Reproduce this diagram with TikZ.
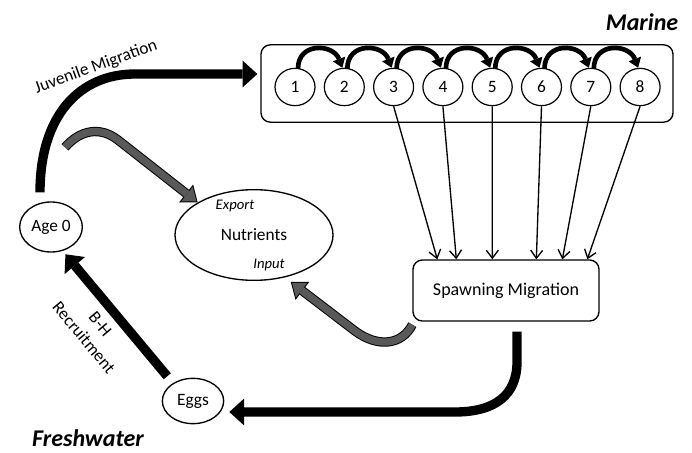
\documentclass[tikz,border=0pt]{standalone}
\usepackage{fontspec}
\setmainfont{Carlito}
\usetikzlibrary{shapes.geometric,arrows.meta,calc}
\definecolor{fluxgray}{RGB}{89,89,89}

\begin{document}
\begin{tikzpicture}[x=0.75pt,y=0.75pt,yscale=-1,xscale=1,
  font=\fontsize{13}{15}\selectfont,
  stage/.style={draw, ellipse, line width=0.9pt, minimum width=30pt, minimum height=28pt, inner sep=0pt},
  bigarrow/.style={line width=7pt, -{Triangle[width=20pt,length=11pt,line width=0pt]}},
  hop/.style={line width=3.5pt, -{Triangle[width=10pt,length=7pt,line width=0pt]}},
  spawnline/.style={line width=1pt, -{Straight Barb[length=6pt,width=9pt]}},
  flux/.style={line width=5.5pt, draw=fluxgray, shorten >=1.2pt, -{Triangle[width=14pt,length=9pt,line width=0pt]},
    preaction={draw=black, line width=7pt, shorten >=0pt, -{Triangle[width=17pt,length=11pt,line width=0pt]}}},
  tag/.style={font=\fontsize{11}{13}\selectfont\itshape},
  realm/.style={font=\fontsize{18}{20}\selectfont\bfseries\itshape}]
\useasboundingbox (0,0) rectangle (692,453);

%Shape: Rounded Rect [id:pool]
\node[draw, rounded corners=7pt, line width=1pt, minimum width=309pt, minimum height=58pt] (pool) at (467,83.5) {};
%Shape: Rounded Rect [id:spawn]
\node[draw, rounded corners=7pt, line width=1pt, minimum width=139.5pt, minimum height=45.75pt, font=\fontsize{13.5}{15}\selectfont] (spawn) at (506,290.5) {Spawning Migration};
%Shape: Ellipse [id:nut]
\node[draw, ellipse, line width=1pt, minimum width=118.5pt, minimum height=68pt, inner sep=0pt] (nut) at (254,235) {Nutrients};
%Shape: Ellipse [id:age]
\node[draw, ellipse, line width=1pt, minimum width=47pt, minimum height=37.5pt, inner sep=0pt] (age) at (51,227) {Age 0};
%Shape: Ellipse [id:eggs]
\node[draw, ellipse, line width=1pt, minimum width=46pt, minimum height=34pt, inner sep=0pt] (eggs) at (193,401) {Eggs};

%Marine age classes
\foreach \i in {1,...,8}
  \node[stage] (s\i) at ({295+49.3*(\i-1)},87) {\i};
\foreach \i [count=\j from 2] in {1,...,7}
  \draw[hop] ($(s\i.north)+(3,1)$) .. controls +(0,-27) and +(-9,-24) .. ($(s\j.north)+(-2,0)$);

%Straight Lines to spawning
\foreach \i/\dx in {3/25,4/44,5/80,6/124,7/150,8/175}
  \draw[spawnline] (s\i.south) -- ($(spawn.north west)+(\dx,0)$);

%Juvenile Migration
\draw[bigarrow] ($(age.north)+(-11,-9)$) .. controls (40,115) and (80,74) .. (135,74) -- ($(pool.west)+(-3,-9.5)$);
%B-H Recruitment
\draw[bigarrow] ($(eggs.135)+(-7,-6)$) -- ($(age.-60)+(1,4)$);
%Spawners back to freshwater
\draw[bigarrow] ($(spawn.south)+(11,10)$) -- (517,362) .. controls (517,395) and (495,412) .. (455,412) -- ($(eggs.east)+(5,11)$);

%Nutrient fluxes
\draw[flux] ($(age.north)+(14,-54)$) .. controls (80,130) and (100,126) .. (118,140) -- (nut.150);
\draw[flux] ($(spawn.south west)+(0,3)$) .. controls (402,345) and (378,348) .. (355,331) -- ($(nut.-52)+(4,5)$);

% Text Node
\node[tag] (export) at (235,206) {Export};
% Text Node
\node[tag] (input) at (269,265) {Input};
% Text Node
\node[rotate=20] (juvlab) at (96,67) {Juvenile Migration};
% Text Node
\node[rotate=-50, align=center, font=\fontsize{13}{16}\selectfont] (bhlab) at (92,331) {B-H\\Recruitment};
% Text Node
\node[realm] (marine) at (642,22) {Marine};
% Text Node
\node[realm] (fresh) at (88,438) {Freshwater};

\end{tikzpicture}
\end{document}
